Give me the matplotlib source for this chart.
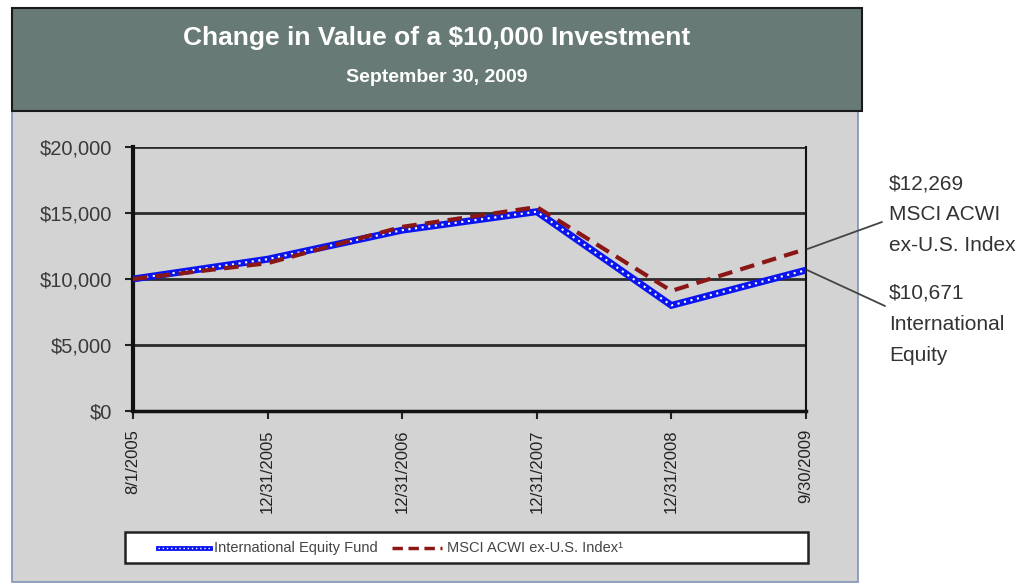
import matplotlib
matplotlib.use("Agg")
import matplotlib.pyplot as plt
from matplotlib.patches import Rectangle
import numpy as np

# ---- data ----
dates = ["8/1/2005", "12/31/2005", "12/31/2006", "12/31/2007", "12/31/2008", "9/30/2009"]
fund = [10000, 11500, 13700, 15100, 8000, 10671]
msci = [10000, 11200, 13950, 15450, 9100, 12269]
yticks = [0, 5000, 10000, 15000, 20000]
ytick_labels = ["$0", "$5,000", "$10,000", "$15,000", "$20,000"]

title = "Change in Value of a $10,000 Investment"
subtitle = "September 30, 2009"
fund_label = "International Equity Fund"
msci_label = "MSCI ACWI ex-U.S. Index\u00b9"
fund_note = "$10,671\nInternational\nEquity"
msci_note = "$12,269\nMSCI ACWI\nex-U.S. Index"

plt.rcParams['font.family'] = ["Liberation Sans", "DejaVu Sans"]

W, H = 1021, 584
fig = plt.figure(figsize=(W / 100, H / 100), dpi=100)
fig.patch.set_facecolor("white")

def fx(px):
    return px / W

def fy(py):
    return 1 - py / H

# gray panel behind the chart
panel = Rectangle((fx(12), fy(582)), fx(858) - fx(12), fy(110) - fy(582),
                  transform=fig.transFigure, facecolor="#d3d3d3",
                  edgecolor="#7f93b5", lw=1.2, zorder=0)
fig.patches.append(panel)

# header box
header = Rectangle((fx(12), fy(111)), fx(862) - fx(12), fy(8) - fy(111),
                   transform=fig.transFigure, facecolor="#677a75",
                   edgecolor="#1a1a1a", lw=1.5, zorder=1)
fig.patches.append(header)
fig.text(fx(437), fy(38), title, color="white", fontsize=19, fontweight="bold",
         ha="center", va="center")
fig.text(fx(437), fy(77), subtitle, color="white", fontsize=14, fontweight="bold",
         ha="center", va="center")

# plot area
ax = fig.add_axes([fx(133), fy(411), fx(806) - fx(133), fy(147) - fy(411)])
ax.set_zorder(3)
ax.set_facecolor("#d3d3d3")
x = np.arange(len(dates))
ax.set_xlim(0, len(dates) - 1)
ax.set_ylim(0, 20000)

for v in yticks[1:]:
    ax.axhline(v, color="#2b2b2b", lw=2, zorder=1)

ax.plot(x, fund, color="#0a14f0", lw=5, zorder=3, solid_joinstyle="miter")
ax.plot(x, fund, color="white", lw=1.5, ls=(0, (1, 2.2)), zorder=4)
ax.plot(x, msci, color="#8b1616", lw=3, ls=(0, (3.5, 2)), zorder=5)

ax.set_yticks(yticks)
ax.set_yticklabels(ytick_labels)
ax.set_xticks(x)
ax.set_xticklabels(dates, rotation=90, va="top", ha="center")
ax.tick_params(axis="y", length=6, width=1.5, color="#222222", labelsize=14.5,
               labelcolor="#3a3a3a", pad=9, direction="out")
ax.tick_params(axis="x", length=6, width=1.5, color="#222222", labelsize=12,
               labelcolor="#222222", pad=7, direction="out")
ax.spines["top"].set_visible(False)
ax.spines["left"].set_linewidth(3)
ax.spines["right"].set_linewidth(1.5)
ax.spines["bottom"].set_linewidth(2.5)
for s in ["left", "right", "bottom"]:
    ax.spines[s].set_color("#111111")

# callouts at the right
ax.annotate("", xy=(len(dates) - 1 + 0.01, msci[-1]), xytext=(fx(882), fy(222)),
            textcoords="figure fraction", annotation_clip=False,
            arrowprops=dict(arrowstyle="-", color="#444444", lw=1.3,
                            shrinkA=0, shrinkB=0))
ax.annotate("", xy=(len(dates) - 1 + 0.01, fund[-1]), xytext=(fx(885), fy(306)),
            textcoords="figure fraction", annotation_clip=False,
            arrowprops=dict(arrowstyle="-", color="#444444", lw=1.3,
                            shrinkA=0, shrinkB=0))
fig.text(fx(889), fy(174), msci_note, color="#333333", fontsize=15,
         ha="left", va="top", linespacing=1.8)
fig.text(fx(889), fy(284), fund_note, color="#333333", fontsize=15,
         ha="left", va="top", linespacing=1.8)

# legend box
leg = Rectangle((fx(125), fy(563)), fx(808) - fx(125), fy(532) - fy(563),
                transform=fig.transFigure, facecolor="white",
                edgecolor="#222222", lw=1.8, zorder=2)
fig.patches.append(leg)
ly = fy(548)
fig.lines.append(plt.Line2D([fx(158), fx(210)], [ly, ly], transform=fig.transFigure,
                            color="#0a14f0", lw=3.5, zorder=3))
fig.lines.append(plt.Line2D([fx(158), fx(210)], [ly, ly], transform=fig.transFigure,
                            color="white", lw=1, ls=(0, (1, 2)), zorder=4))
fig.lines.append(plt.Line2D([fx(392), fx(442)], [ly, ly], transform=fig.transFigure,
                            color="#8b1616", lw=2.5, ls=(0, (3, 1.6)), zorder=3))
fig.text(fx(214), ly, fund_label, color="#444444", fontsize=10.5, ha="left",
         va="center", zorder=5)
fig.text(fx(447), ly, msci_label, color="#444444", fontsize=10.5, ha="left",
         va="center", zorder=5)

fig.savefig("out.png", dpi=100, facecolor="white")
